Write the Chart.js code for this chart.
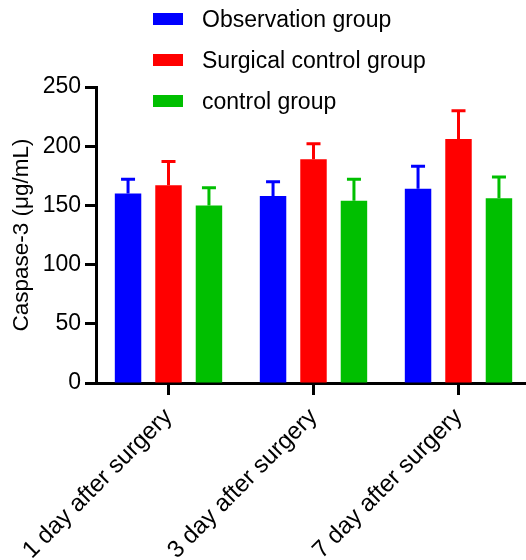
<!DOCTYPE html>
<html>
<head>
<meta charset="utf-8">
<script src="https://cdn.jsdelivr.net/npm/chart.js@4/dist/chart.umd.min.js"></script>
<style>
  html, body { margin: 0; padding: 0; overflow: hidden; background: #fff; }
  #wrap { position: relative; width: 526px; height: 560px; overflow: hidden; }
  #legend { position: absolute; left: 153px; top: 0; font-family: 'Liberation Sans', Arial, sans-serif; font-size: 23px; color: #000; }
  #legend .row { position: absolute; left: 0; height: 26px; white-space: nowrap; }
  #legend .box { position: absolute; left: 0; top: 7px; width: 30px; height: 12px; }
  #legend .txt { position: absolute; left: 49px; top: 0; line-height: 26px; }
</style>
</head>
<body>
<div id="wrap">
  <canvas id="chart" width="531" height="560"></canvas>
  <div id="legend"></div>
</div>
<script>
  'use strict';

  const categories = ['1 day after surgery', '3 day after surgery', '7 day after surgery'];
  const seriesNames = ['Observation group', 'Surgical control group', 'control group'];
  const seriesColors = ['#0000ff', '#ff0000', '#00bf00'];

  const observationMean = [160, 158, 164];
  const observationErr = [12, 12, 19];
  const surgicalMean = [167, 189, 206];
  const surgicalErr = [20, 13, 24];
  const controlMean = [150, 154, 156];
  const controlErr = [15, 18, 18];

  const yTicks = [0, 50, 100, 150, 200, 250];

  const font = "'Liberation Sans', Arial, sans-serif";
  Chart.defaults.font.family = font;
  Chart.defaults.color = '#000';

  const means = [observationMean, surgicalMean, controlMean];
  const errs = [observationErr, surgicalErr, controlErr];

  // html legend, one row per group
  const legendEl = document.getElementById('legend');
  seriesNames.forEach((name, i) => {
    const row = document.createElement('div');
    row.className = 'row';
    row.style.top = (6 + i * 41) + 'px';
    row.innerHTML = '<span class="box" style="background:' + seriesColors[i] + '"></span><span class="txt"></span>';
    row.querySelector('.txt').textContent = name;
    legendEl.appendChild(row);
  });

  // upward error bars with a cap
  const errorBars = {
    id: 'errorBars',
    afterDatasetsDraw(chart) {
      const ctx = chart.ctx;
      const yScale = chart.scales.y;
      chart.data.datasets.forEach((ds, di) => {
        const meta = chart.getDatasetMeta(di);
        meta.data.forEach((bar, i) => {
          const top = yScale.getPixelForValue(ds.data[i] + ds.errors[i]);
          ctx.save();
          ctx.strokeStyle = ds.backgroundColor;
          ctx.lineWidth = 3;
          ctx.beginPath();
          ctx.moveTo(bar.x, bar.y);
          ctx.lineTo(bar.x, top);
          ctx.moveTo(bar.x - 7, top);
          ctx.lineTo(bar.x + 7, top);
          ctx.stroke();
          ctx.restore();
        });
      });
    },
  };

  new Chart(document.getElementById('chart'), {
    type: 'bar',
    data: {
      labels: categories,
      datasets: seriesNames.map((name, i) => ({
        label: name,
        data: means[i],
        errors: errs[i],
        backgroundColor: seriesColors[i],
        borderWidth: 0,
        categoryPercentage: 0.837,
        barPercentage: 0.654,
      })),
    },
    options: {
      responsive: false,
      animation: false,
      layout: { padding: { top: 87, left: 0, right: 0, bottom: 0 } },
      plugins: {
        legend: { display: false },
        tooltip: { enabled: false },
      },
      scales: {
        x: {
          grid: { offset: false, drawOnChartArea: false, tickLength: 12, tickWidth: 3, tickColor: '#000' },
          border: { color: '#000', width: 3 },
          ticks: { minRotation: 45, maxRotation: 45, padding: 8, font: { size: 24 }, color: '#000' },
          afterFit(scale) { scale.height = 177; },
        },
        y: {
          min: 0,
          max: 250,
          afterBuildTicks(scale) { scale.ticks = yTicks.map((v) => ({ value: v })); },
          grid: { drawOnChartArea: false, tickLength: 11, tickWidth: 3, tickColor: '#000' },
          border: { color: '#000', width: 3 },
          ticks: { padding: 4, font: { size: 23 }, color: '#000' },
          title: {
            display: true,
            text: 'Caspase-3 (μg/mL)',
            font: { size: 22.5 },
            color: '#000',
            padding: { top: 8, bottom: 0 },
          },
          afterFit(scale) { scale.width = 96; },
        },
      },
    },
    plugins: [errorBars],
  });
</script>
</body>
</html>
